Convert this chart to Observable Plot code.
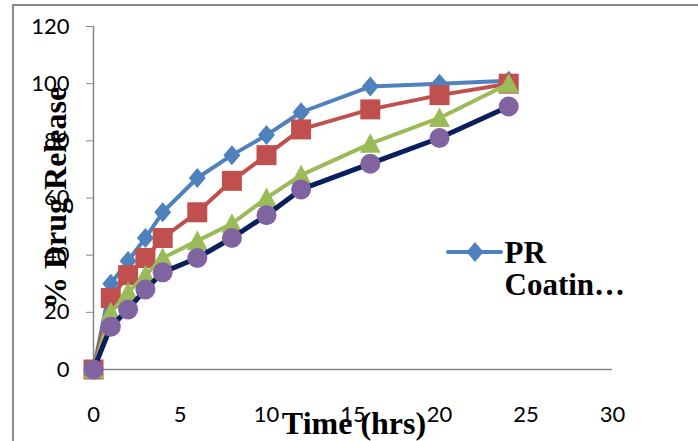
<!DOCTYPE html>
<html>
<head>
<meta charset="utf-8">
<script src="https://cdn.jsdelivr.net/npm/d3@7"></script>
<script src="https://cdn.jsdelivr.net/npm/@observablehq/plot@0.6"></script>
<style>
html, body { margin: 0; padding: 0; background: #fff; overflow: hidden; }
#wrap { position: relative; width: 698px; height: 441px; overflow: hidden; background: #fff; }
#wrap svg { position: absolute; left: 0; top: 0; }
#border { position: absolute; left: 12px; top: 4px; width: 800px; height: 600px;
  border-left: 2px solid #8a8a8a; border-top: 2px solid #8a8a8a; pointer-events: none; }
#legend { position: absolute; left: 445px; top: 236px; }
#legend svg { position: absolute; left: 0; top: 0; }
#legend .txt { position: absolute; left: 59.5px; top: 0.5px; font-family: "Liberation Serif", serif;
  font-weight: bold; font-size: 31px; line-height: 32px; color: #000; white-space: nowrap; }
</style>
</head>
<body>
<div id="wrap"></div>
<script>
// ---- data ----
const hours = [0, 1, 2, 3, 4, 6, 8, 10, 12, 16, 20, 24];
const seriesNames = ["PR Coating", "Series 2", "Series 3", "Series 4"];
const prCoating = [0, 30, 38, 46, 55, 67, 75, 82, 90, 99, 100, 101];
const series2 = [0, 25, 33, 39, 46, 55, 66, 75, 84, 91, 96, 100];
const series3 = [0, 20, 27, 33, 39, 45, 51, 60, 68, 79, 88, 100];
const series4 = [0, 15, 21, 28, 34, 39, 46, 54, 63, 72, 81, 92];
const xTicks = [0, 5, 10, 15, 20, 25, 30];
const yTicks = [0, 20, 40, 60, 80, 100, 120];
const xTitle = "Time (hrs)";
const yTitle = "% Drug Release";
const legendLabel = "PR Coatin…";

// ---- styles ----
const diamond = {draw(ctx, size) { const r = Math.sqrt(size / Math.PI); const w = 0.85 * r;
  ctx.moveTo(0, -r); ctx.lineTo(w, 0); ctx.lineTo(0, r); ctx.lineTo(-w, 0); ctx.closePath(); }};
const square = {draw(ctx, size) { const r = Math.sqrt(size / Math.PI); ctx.rect(-r, -r, 2 * r, 2 * r); }};
const triangle = {draw(ctx, size) { const r = Math.sqrt(size / Math.PI);
  ctx.moveTo(0, -1.05 * r); ctx.lineTo(1.05 * r, 0.9 * r); ctx.lineTo(-1.05 * r, 0.9 * r); ctx.closePath(); }};

const seriesValues = [prCoating, series2, series3, series4];
const lineColors = ["#4F81BD", "#C0504D", "#9BBB59", "#0B1F5E"];
const markerColors = ["#4F81BD", "#C0504D", "#9BBB59", "#8064A2"];
const symbols = [diamond, square, triangle, "circle"];
const lineWidths = [4, 4, 4, 5];

const tables = seriesValues.map((vals, s) => hours.map((h, i) => ({series: seriesNames[s], hour: h, value: vals[i]})));

const seriesMarks = tables.flatMap((rows, s) => [
  Plot.line(rows, {x: "hour", y: "value", stroke: lineColors[s], strokeWidth: lineWidths[s], strokeLinejoin: "round", strokeLinecap: "round"}),
  Plot.dot(rows, {x: "hour", y: "value", symbol: symbols[s], r: 10, fill: markerColors[s], stroke: "none"})
]);

const chart = Plot.plot({
  width: 698,
  height: 441,
  marginLeft: 93,
  marginRight: 86,
  marginTop: 26,
  marginBottom: 72,
  style: {background: "transparent", fontFamily: "Lato", fontSize: "21px", overflow: "visible"},
  x: {domain: [0, 30]},
  y: {domain: [0, 120]},
  marks: [
    Plot.ruleY([0], {stroke: "#868686", strokeWidth: 1.5}),
    Plot.ruleX([0], {stroke: "#868686", strokeWidth: 1.5}),
    Plot.axisY(yTicks, {tickSize: 7, tickPadding: 17, stroke: "#868686", fill: "#000", fontSize: 22, fontFamily: "Lato", label: null}),
    Plot.axisX(xTicks, {tickSize: 0, tickPadding: 37, fill: "#000", fontSize: 22, fontFamily: "Lato", label: null}),
    ...seriesMarks,
    Plot.text([xTitle], {text: d => d, frameAnchor: "bottom", dx: 1, dy: 54, lineAnchor: "middle", textAnchor: "middle",
      fontFamily: "Liberation Serif", fontWeight: "bold", fontSize: 32, fill: "#000"}),
    Plot.text([yTitle], {text: d => d, frameAnchor: "left", dx: -38, rotate: -90, lineAnchor: "middle", textAnchor: "middle",
      fontFamily: "Liberation Serif", fontWeight: "bold", fontSize: 32, fill: "#000"})
  ]
});

const wrap = document.getElementById("wrap");
wrap.appendChild(chart);

const border = document.createElement("div");
border.id = "border";
wrap.appendChild(border);

// legend (first entry only, as in the reference)
const legend = document.createElement("div");
legend.id = "legend";
const ls = d3.create("svg").attr("width", 60).attr("height", 32);
ls.append("line").attr("x1", 3).attr("x2", 56).attr("y1", 16).attr("y2", 16)
  .attr("stroke", lineColors[0]).attr("stroke-width", 4).attr("stroke-linecap", "round");
ls.append("path").attr("transform", "translate(30,16)")
  .attr("d", d3.symbol(diamond, Math.PI * 100)()).attr("fill", markerColors[0]);
legend.appendChild(ls.node());
const lt = document.createElement("div");
lt.className = "txt";
const parts = legendLabel.split(" ");
lt.innerHTML = parts[0] + "<br>" + parts.slice(1).join(" ");
legend.appendChild(lt);
wrap.appendChild(legend);
</script>
</body>
</html>
